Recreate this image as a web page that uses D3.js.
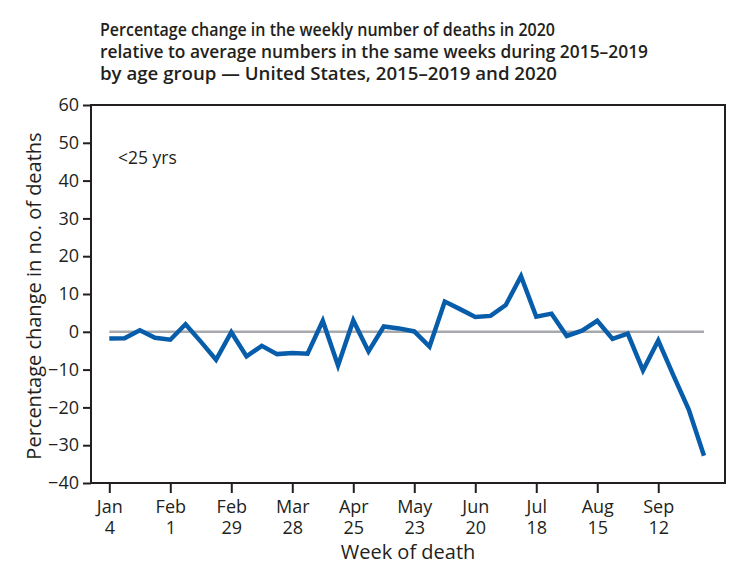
<!DOCTYPE html>
<html>
<head>
<meta charset="utf-8">
<script src="https://cdn.jsdelivr.net/npm/d3@7"></script>
<style>
  body { margin: 0; background: #fff; }
  text { font-family: "Open Sans", "Noto Sans", sans-serif; fill: #231f20; }
</style>
</head>
<body>
<div id="chart"></div>
<script>
// Our canvas
const width = 752, height = 580
const plotLeft = 91, plotRight = 725, plotTop = 105, plotBottom = 483

// data: weekly % change, <25 yrs, weeks from Jan 4 2020
const weekIndex = d3.range(40)
const pctChange = [-1.8, -1.7, 0.4, -1.6, -2.1, 2.0, -2.6, -7.4, -0.1, -6.5,
  -3.7, -5.9, -5.6, -5.8, 2.9, -8.9, 3.0, -5.2, 1.4, 0.9,
  0.1, -3.9, 8.0, 6.0, 3.9, 4.2, 7.1, 14.7, 4.0, 4.8,
  -1.1, 0.3, 2.9, -1.9, -0.5, -10.2, -2.3, -11.6, -20.6, -32.8]
const tickWeeks = [0, 4, 8, 12, 16, 20, 24, 28, 32, 36]
const tickMonths = ['Jan', 'Feb', 'Feb', 'Mar', 'Apr', 'May', 'Jun', 'Jul', 'Aug', 'Sep']
const tickDays = ['4', '1', '29', '28', '25', '23', '20', '18', '15', '12']
const yTicks = [-40, -30, -20, -10, 0, 10, 20, 30, 40, 50, 60]
const titleLines = [
  'Percentage change in the weekly number of deaths in 2020',
  'relative to average numbers in the same weeks during 2015\u20132019',
  'by age group \u2014 United States, 2015\u20132019 and 2020'
]

const xscale = d3.scaleLinear().domain([0, 39]).range([109.3, 704])
const yscale = d3.scaleLinear().domain([-40, 60]).range([plotBottom, plotTop])

let svg = d3.select('#chart')
  .append('svg')
  .attr('width', width)
  .attr('height', height)

// title
svg.append('g').selectAll('text')
  .data(titleLines)
  .enter()
  .append('text')
  .attr('x', 100)
  .attr('y', (d, i) => 36 + i * 22)
  .attr('font-size', 18.5)
  .attr('font-weight', 600)
  .attr('textLength', (d, i) => [455, 548, 457][i])
  .attr('lengthAdjust', 'spacingAndGlyphs')
  .text(d => d)

// zero line
svg.append('line')
  .attr('x1', xscale(0)).attr('x2', xscale(39))
  .attr('y1', yscale(0)).attr('y2', yscale(0))
  .attr('stroke', '#a7a9ac')
  .attr('stroke-width', 2.5)

// data line
svg.append('path')
  .datum(pctChange)
  .attr('fill', 'none')
  .attr('stroke', '#075daa')
  .attr('stroke-width', 4.5)
  .attr('stroke-linejoin', 'miter')
  .attr('d', d3.line().x((d, i) => xscale(weekIndex[i])).y(d => yscale(d)))

// frame
svg.append('rect')
  .attr('x', plotLeft).attr('y', plotTop)
  .attr('width', plotRight - plotLeft).attr('height', plotBottom - plotTop)
  .attr('fill', 'none')
  .attr('stroke', '#231f20')
  .attr('stroke-width', 2)

// y axis
let yAxis = svg.append('g')
  .attr('transform', `translate(${plotLeft},0)`)
  .call(d3.axisLeft(yscale).tickValues(yTicks).tickSize(8).tickPadding(4).tickFormat(d3.format('d')))
yAxis.select('.domain').remove()
yAxis.selectAll('line').attr('stroke', '#231f20').attr('stroke-width', 2)
yAxis.selectAll('text').attr('font-size', 18).attr('font-family', null).attr('fill', '#231f20')

// x axis
let xAxis = svg.append('g')
  .attr('transform', `translate(0,${plotBottom})`)
  .call(d3.axisBottom(xscale).tickValues(tickWeeks).tickSize(10).tickFormat(''))
xAxis.select('.domain').remove()
xAxis.selectAll('line').attr('stroke', '#231f20').attr('stroke-width', 2)
let lbl = xAxis.selectAll('.tick').append('text')
  .attr('font-size', 18)
  .attr('text-anchor', 'middle')
  .attr('fill', '#231f20')
lbl.append('tspan').attr('x', 0).attr('y', 30).text((d, i) => tickMonths[i])
lbl.append('tspan').attr('x', 0).attr('y', 51).text((d, i) => tickDays[i])

// axis titles
svg.append('text')
  .attr('x', 408).attr('y', 559)
  .attr('text-anchor', 'middle')
  .attr('font-size', 20)
  .text('Week of death')

svg.append('text')
  .attr('transform', `translate(41,${(plotTop + plotBottom) / 2 + 2}) rotate(-90)`)
  .attr('text-anchor', 'middle')
  .attr('font-size', 20)
  .text('Percentage change in no. of deaths')

// group label
svg.append('text')
  .attr('x', 118).attr('y', 164)
  .attr('font-size', 17.5)
  .text('<25 yrs')
</script>
</body>
</html>
